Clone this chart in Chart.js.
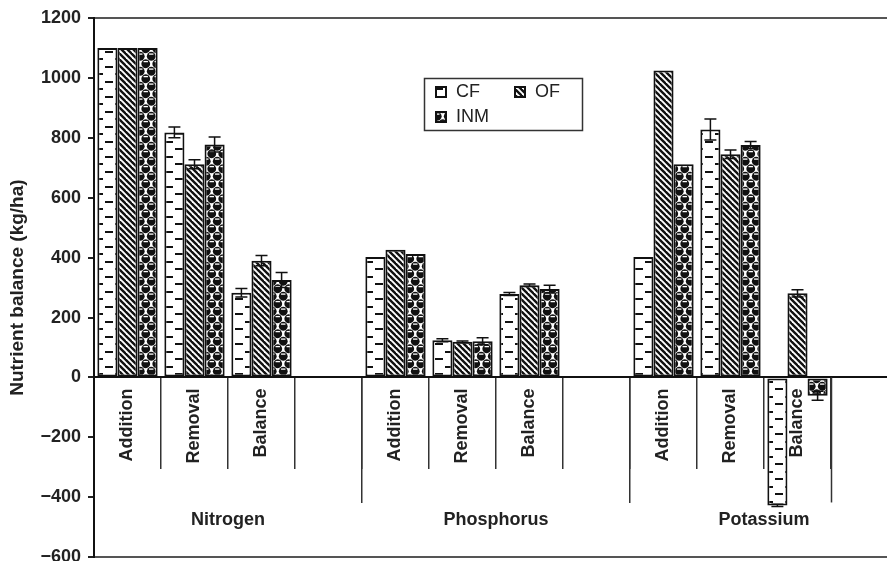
<!DOCTYPE html>
<html><head><meta charset="utf-8">
<script src="https://cdn.jsdelivr.net/npm/chart.js@4"></script>
<style>
html,body{margin:0;padding:0;background:#fff;overflow:hidden;width:887px;height:561px;}
#wrap{position:absolute;left:0;top:0;width:900px;height:575px;}
</style></head><body>
<div id="wrap"><canvas id="c" width="900" height="575"></canvas></div>
<script>
// ---- data ----
const categories = ['Addition','Removal','Balance','', 'Addition','Removal','Balance','', 'Addition','Removal','Balance',''];
const groups = ['Nitrogen','Phosphorus','Potassium'];
const seriesNames = ['CF','OF','INM'];
const cfValues  = [1100, 818, 283, null, 402, 124, 279, null, 402, 828, -427, null];
const ofValues  = [1100, 712, 390, null, 426, 119, 308, null, 1025, 745, 281, null];
const inmValues = [1100, 778, 325, null, 412, 121, 295, null, 712, 776, -61, null];
const cfErrors  = [0, 18, 14, null, 0, 5, 5, null, 0, 35, 4, null];
const ofErrors  = [0, 15, 17, null, 0, 3, 4, null, 0, 14, 12, null];
const inmErrors = [0, 25, 25, null, 0, 12, 13, null, 0, 12, 15, null];
const yMin = -600, yMax = 1200, yStep = 200;
const yTitle = 'Nutrient balance (kg/ha)';

const FONT = '"Liberation Sans", Arial, Helvetica, sans-serif';
Chart.defaults.font.family = FONT;
Chart.defaults.color = '#222';

const mainCtx = document.getElementById('c').getContext('2d');
function makePattern(kind){
  const c = document.createElement('canvas');
  const g = c.getContext('2d');
  if (kind === 'cf') {
    c.width = 20; c.height = 15;
    g.fillStyle = '#fff'; g.fillRect(0,0,20,15);
    g.fillStyle = '#111';
    g.fillRect(5,6,8,2);
    g.fillRect(15,13,5,2); g.fillRect(0,13,3,2);
  } else if (kind === 'of') {
    c.width = 6; c.height = 6;
    g.fillStyle = '#fff'; g.fillRect(0,0,6,6);
    g.strokeStyle = '#111'; g.lineWidth = 2.4;
    for (let k=-1;k<=1;k++){ g.beginPath(); g.moveTo(-2, -2 + k*6); g.lineTo(8, 8 + k*6); g.stroke(); }
  } else {
    c.width = 11; c.height = 15;
    g.fillStyle = '#fff'; g.fillRect(0,0,11,15);
    g.fillStyle = '#111';
    const centers = [[2.75,3.75],[8.25,11.25]];
    for (const [cx,cy] of centers) for (const dx of [-11,0,11]) for (const dy of [-15,0,15]) {
      g.beginPath(); g.arc(cx+dx, cy+dy, 4.4, 0, Math.PI*2); g.fill();
    }
    g.fillStyle = '#fff';
    for (const [cx,cy] of centers) for (const dx of [-11,0,11]) for (const dy of [-15,0,15]) {
      g.fillRect(cx+dx-2.2, cy+dy-2.8, 4.4, 1.3);
    }
  }
  return mainCtx.createPattern(c, 'repeat');
}
const patterns = [makePattern('cf'), makePattern('of'), makePattern('inm')];
const valueArrays = [cfValues, ofValues, inmValues];
const errorArrays = [cfErrors, ofErrors, inmErrors];

const datasets = seriesNames.map((name, i) => ({
  label: name,
  data: valueArrays[i],
  errors: errorArrays[i],
  backgroundColor: patterns[i],
  borderColor: '#111',
  borderWidth: 2,
  borderSkipped: false,
  barPercentage: 1.0,
  categoryPercentage: 0.9
}));

const errorBarPlugin = {
  id: 'errorBars',
  afterDatasetsDraw(chart) {
    const ctx = chart.ctx, y = chart.scales.y;
    ctx.save();
    ctx.strokeStyle = '#111'; ctx.lineWidth = 1.5;
    chart.data.datasets.forEach((ds, i) => {
      const meta = chart.getDatasetMeta(i);
      meta.data.forEach((bar, j) => {
        const v = ds.data[j], e = ds.errors[j];
        if (v == null || !e) return;
        const t = y.getPixelForValue(v + e), b = y.getPixelForValue(v - e);
        const hw = 6;
        ctx.beginPath();
        ctx.moveTo(bar.x, t); ctx.lineTo(bar.x, b);
        ctx.moveTo(bar.x - hw, t); ctx.lineTo(bar.x + hw, t);
        ctx.moveTo(bar.x - hw, b); ctx.lineTo(bar.x + hw, b);
        ctx.stroke();
      });
    });
    ctx.restore();
  }
};

const extrasPlugin = {
  id: 'extras',
  afterDraw(chart) {
    const ctx = chart.ctx, x = chart.scales.x, y = chart.scales.y;
    // extra long separator after last Potassium item
    const bx = Math.round((x.getPixelForValue(10) + x.getPixelForValue(11)) / 2) + 0.5;
    const y0 = y.getPixelForValue(0);
    ctx.save();
    ctx.strokeStyle = '#333'; ctx.lineWidth = 1.5;
    ctx.beginPath(); ctx.moveTo(bx, y0); ctx.lineTo(bx, y0 + 125); ctx.stroke();
    // legend
    const L = 424, T = 78, W = 158, H = 52;
    ctx.lineWidth = 1.5; ctx.strokeStyle = '#333'; ctx.fillStyle = '#fff';
    ctx.fillRect(L, T, W, H); ctx.strokeRect(L + 0.5, T + 0.5, W, H);
    const items = [[435, 86, 456], [514, 86, 535], [435, 111, 456]];
    ctx.font = '18px ' + FONT; ctx.textBaseline = 'middle'; ctx.textAlign = 'left';
    chart.data.datasets.forEach((ds, i) => {
      const [mx, my, tx] = items[i];
      ctx.fillStyle = ds.backgroundColor; ctx.fillRect(mx, my, 12, 12);
      ctx.lineWidth = 2; ctx.strokeStyle = '#111'; ctx.strokeRect(mx + 1, my + 1, 10, 10);
      ctx.fillStyle = '#222'; ctx.fillText(ds.label, tx, my + 6.5);
    });
    ctx.restore();
  }
};

new Chart(mainCtx, {
  type: 'bar',
  data: { labels: categories, datasets },
  options: {
    responsive: false,
    animation: false,
    devicePixelRatio: 1,
    layout: { padding: { left: 0, top: 18, right: 2, bottom: 14 } },
    plugins: { legend: { display: false }, tooltip: { enabled: false } },
    scales: {
      x: {
        type: 'category',
        position: { y: 0 },
        offset: true,
        afterFit: s => { s.height = 0; },
        grid: { offset: true, drawOnChartArea: false, drawTicks: true, tickLength: 91, tickColor: '#333', lineWidth: 1.5 },
        border: { display: true, color: '#111', width: 2 },
        ticks: { autoSkip: false, minRotation: 90, maxRotation: 90, padding: -80,
                 font: { size: 18, weight: 'bold' }, color: '#222' }
      },
      x2: {
        type: 'category',
        labels: groups,
        position: { y: 0 },
        offset: true,
        afterFit: s => { s.height = 0; },
        grid: { offset: true, drawOnChartArea: false, drawTicks: true, tickLength: 125, tickColor: '#333', lineWidth: 1.5 },
        border: { display: true, color: '#111', width: 2 },
        ticks: { autoSkip: false, maxRotation: 0, padding: 7, font: { size: 18, weight: 'bold' }, color: '#222' }
      },
      y: {
        min: yMin, max: yMax,
        afterFit: s => { s.width = 94; },
        ticks: { stepSize: yStep, padding: 7, font: { size: 18, weight: 'bold' }, color: '#222',
                 callback: v => String(v).replace('-', '\u2212') },
        grid: {
          drawOnChartArea: true, tickLength: 6, tickColor: '#222', lineWidth: 2,
          color: c => (c.tick && (c.tick.value === yMax || c.tick.value === yMin)) ? '#555' : 'rgba(0,0,0,0)'
        },
        border: { display: true, color: '#111', width: 2 },
        title: { display: true, text: yTitle, font: { size: 19, weight: 'bold' }, color: '#222', padding: { top: 6, bottom: 0 } }
      }
    }
  },
  plugins: [errorBarPlugin, extrasPlugin]
});
</script>
</body></html>
